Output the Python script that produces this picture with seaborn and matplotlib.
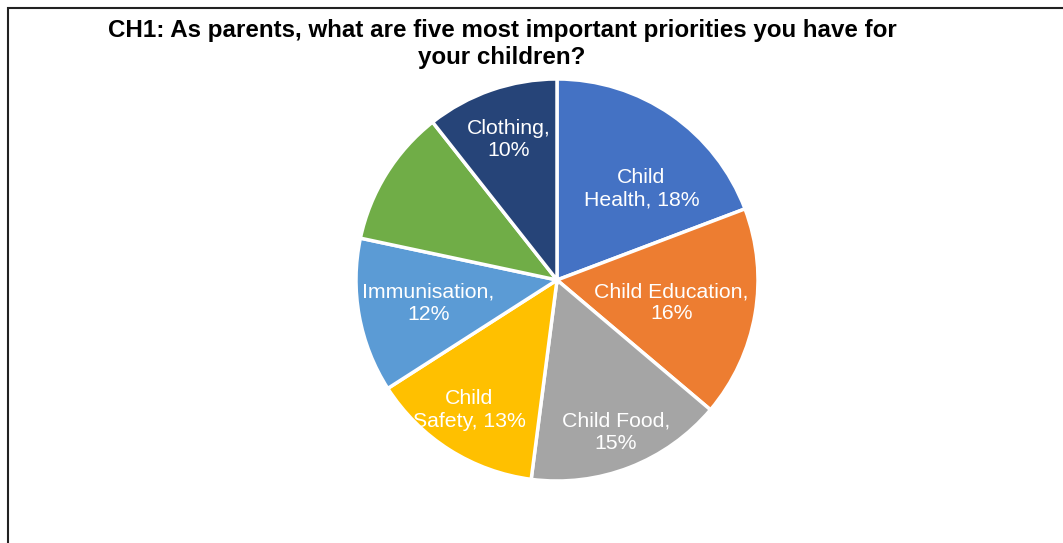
import numpy as np
import matplotlib
matplotlib.use("Agg")
import matplotlib.pyplot as plt
import seaborn as sns
from matplotlib.patches import Rectangle

# ---- data ----
categories = ["Child Health", "Child Education", "Child Food", "Child Safety",
              "Immunisation", "", "Clothing"]
values = [18.3, 16.1, 15.1, 13.2, 11.8, 10.5, 10.1]
label_names = ["Child\nHealth", "Child Education,\n", "Child Food,\n",
               "Child\nSafety", "Immunisation,\n", "", "Clothing,\n"]
title = "CH1: As parents, what are five most important priorities you have for\nyour children?"

# ---- style ----
colors = ["#4472C4", "#ED7D31", "#A5A5A5", "#FFC000", "#5B9BD5", "#70AD47", "#264478"]
label_radius = [0.62, 0.58, 0.81, 0.78, 0.65, 0.7, 0.74]
label_angle_offset = [-8, -1.5, 0, -1.7, 0, 0, 0]

sns.set_theme(style="white")
plt.rcParams["font.family"] = ["Liberation Sans", "DejaVu Sans"]
pal = sns.color_palette(colors)

W, H = 1063, 543
fig = plt.figure(figsize=(W / 100, H / 100), dpi=100)
fig.patch.set_facecolor("white")

cx, cy, R = 557, 280, 201
ax = fig.add_axes([(cx - R) / W, (H - cy - R) / H, 2 * R / W, 2 * R / H])
wedges, _ = ax.pie(values, colors=pal, startangle=90, counterclock=False,
                   wedgeprops=dict(edgecolor="white", linewidth=2.5), radius=1.0)
ax.set_xlim(-1, 1)
ax.set_ylim(-1, 1)
ax.set_aspect("equal")
ax.axis("off")

for w, name, v, r, off in zip(wedges, label_names, values, label_radius, label_angle_offset):
    if not name:
        continue
    if name.endswith("\n"):
        txt = f"{name}{round(v):d}%"
    else:
        txt = f"{name}, {round(v):d}%"
    ang = np.deg2rad((w.theta1 + w.theta2) / 2 + off)
    ax.text(r * np.cos(ang), r * np.sin(ang), txt, ha="center", va="center",
            color="white", fontsize=15.3, linespacing=1.23)

fig.text(502 / W, 1 - 44 / H, title, ha="center", va="center", fontsize=17.4,
         fontweight="bold", color="black", linespacing=1.17)

# chart border (extends past the right and bottom edges)
fig.patches.append(Rectangle((7.5 / W, -0.1), 1.2, 1 - 7.5 / H + 0.1,
                             transform=fig.transFigure, fill=False,
                             edgecolor="#222222", linewidth=1.5))

fig.savefig("out.png", dpi=100)
